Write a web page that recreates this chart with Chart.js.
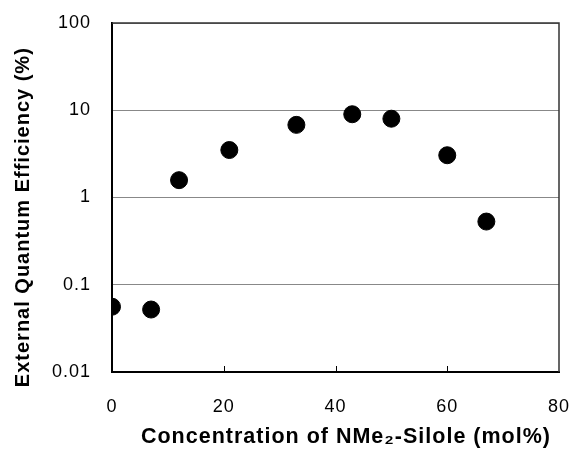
<!DOCTYPE html>
<html>
<head>
<meta charset="utf-8">
<script src="https://cdn.jsdelivr.net/npm/chart.js@4"></script>
<style>
  body { margin: 0; background: #fff; }
  #wrap { width: 574px; height: 450px; }
</style>
</head>
<body>
<div id="wrap"><canvas id="myChart"></canvas></div>
<script>
// NMe2-Silole concentration (mol%) vs EQE (%)
var concentration = [0, 7, 12, 21, 33, 43, 50, 60, 67];
var eqe = [0.056, 0.052, 1.58, 3.5, 6.8, 9.0, 8.0, 3.05, 0.53];
var yTicks = [0.01, 0.1, 1, 10, 100];
var xTicks = [0, 20, 40, 60, 80];

var points = [];
for (var i = 0; i < concentration.length; i++) {
    points.push({ x: concentration[i], y: eqe[i] });
}

// the original uses a wide Arial, a little letter spacing gets close
var spacingPlugin = {
    id: 'spacing',
    beforeUpdate: function (chart) { chart.ctx.letterSpacing = '1px'; },
    beforeDraw: function (chart) { chart.ctx.letterSpacing = '1px'; }
};

// frame top/right + short inward ticks on the x axis
var framePlugin = {
    id: 'frame',
    afterDraw: function (chart) {
        var ctx = chart.ctx;
        var a = chart.chartArea;
        var xs = chart.scales.x;
        ctx.save();
        ctx.strokeStyle = '#333';
        ctx.lineWidth = 1.5;
        ctx.beginPath();
        ctx.moveTo(a.left, a.top);
        ctx.lineTo(a.right, a.top);
        ctx.lineTo(a.right, a.bottom);
        ctx.stroke();
        ctx.strokeStyle = '#000';
        ctx.lineWidth = 1;
        xTicks.slice(1, -1).forEach(function (v) {
            var px = Math.round(xs.getPixelForValue(v)) + 0.5;
            ctx.beginPath();
            ctx.moveTo(px, a.bottom);
            ctx.lineTo(px, a.bottom - 6);
            ctx.stroke();
        });
        ctx.restore();
    }
};

var config = {
    type: 'scatter',
    data: {
        datasets: [{
            label: 'EQE',
            data: points,
            backgroundColor: '#000',
            borderColor: '#000',
            pointRadius: 8.5,
            pointHoverRadius: 8.5
        }]
    },
    options: {
        responsive: false,
        animation: false,
        layout: { padding: { top: 23, right: 15, left: 0, bottom: 0 } },
        plugins: {
            legend: { display: false },
            tooltip: { enabled: false }
        },
        scales: {
            x: {
                type: 'linear',
                min: 0,
                max: 80,
                afterBuildTicks: function (scale) {
                    scale.ticks = xTicks.map(function (v) { return { value: v }; });
                },
                afterFit: function (scale) {
                    scale.height = 78;
                    scale.paddingLeft = 0;
                    scale.paddingRight = 0;
                },
                grid: { display: false, drawTicks: false },
                border: { display: true, color: '#000', width: 2 },
                ticks: {
                    color: '#000',
                    padding: 24,
                    maxRotation: 0,
                    font: { family: 'Liberation Sans, Arial', size: 18 }
                },
                title: {
                    display: true,
                    text: '   Concentration of NMe\u2082-Silole (mol%)',
                    color: '#000',
                    padding: { top: 0, bottom: 0 },
                    font: { family: 'Liberation Sans, Arial', size: 21.5, weight: 'bold' }
                }
            },
            y: {
                type: 'logarithmic',
                min: 0.01,
                max: 100,
                afterBuildTicks: function (scale) {
                    scale.ticks = yTicks.map(function (v) { return { value: v }; });
                },
                afterFit: function (scale) {
                    scale.width = 112;
                    scale.paddingTop = 0;
                    scale.paddingBottom = 0;
                },
                grid: { color: '#888', lineWidth: 1, drawTicks: false },
                border: { display: true, color: '#000', width: 2 },
                ticks: {
                    color: '#000',
                    padding: 21,
                    font: { family: 'Liberation Sans, Arial', size: 18 },
                    callback: function (v) { return String(v); }
                },
                title: {
                    display: true,
                    text: 'External Quantum Efficiency (%)      ',
                    color: '#000',
                    padding: { top: 11, bottom: 0 },
                    font: { family: 'Liberation Sans, Arial', size: 20, weight: 'bold' }
                }
            }
        }
    },
    plugins: [spacingPlugin, framePlugin]
};

var canvas = document.getElementById('myChart');
canvas.width = 574;
canvas.height = 450;
var myChart = new Chart(canvas, config);
</script>
</body>
</html>
